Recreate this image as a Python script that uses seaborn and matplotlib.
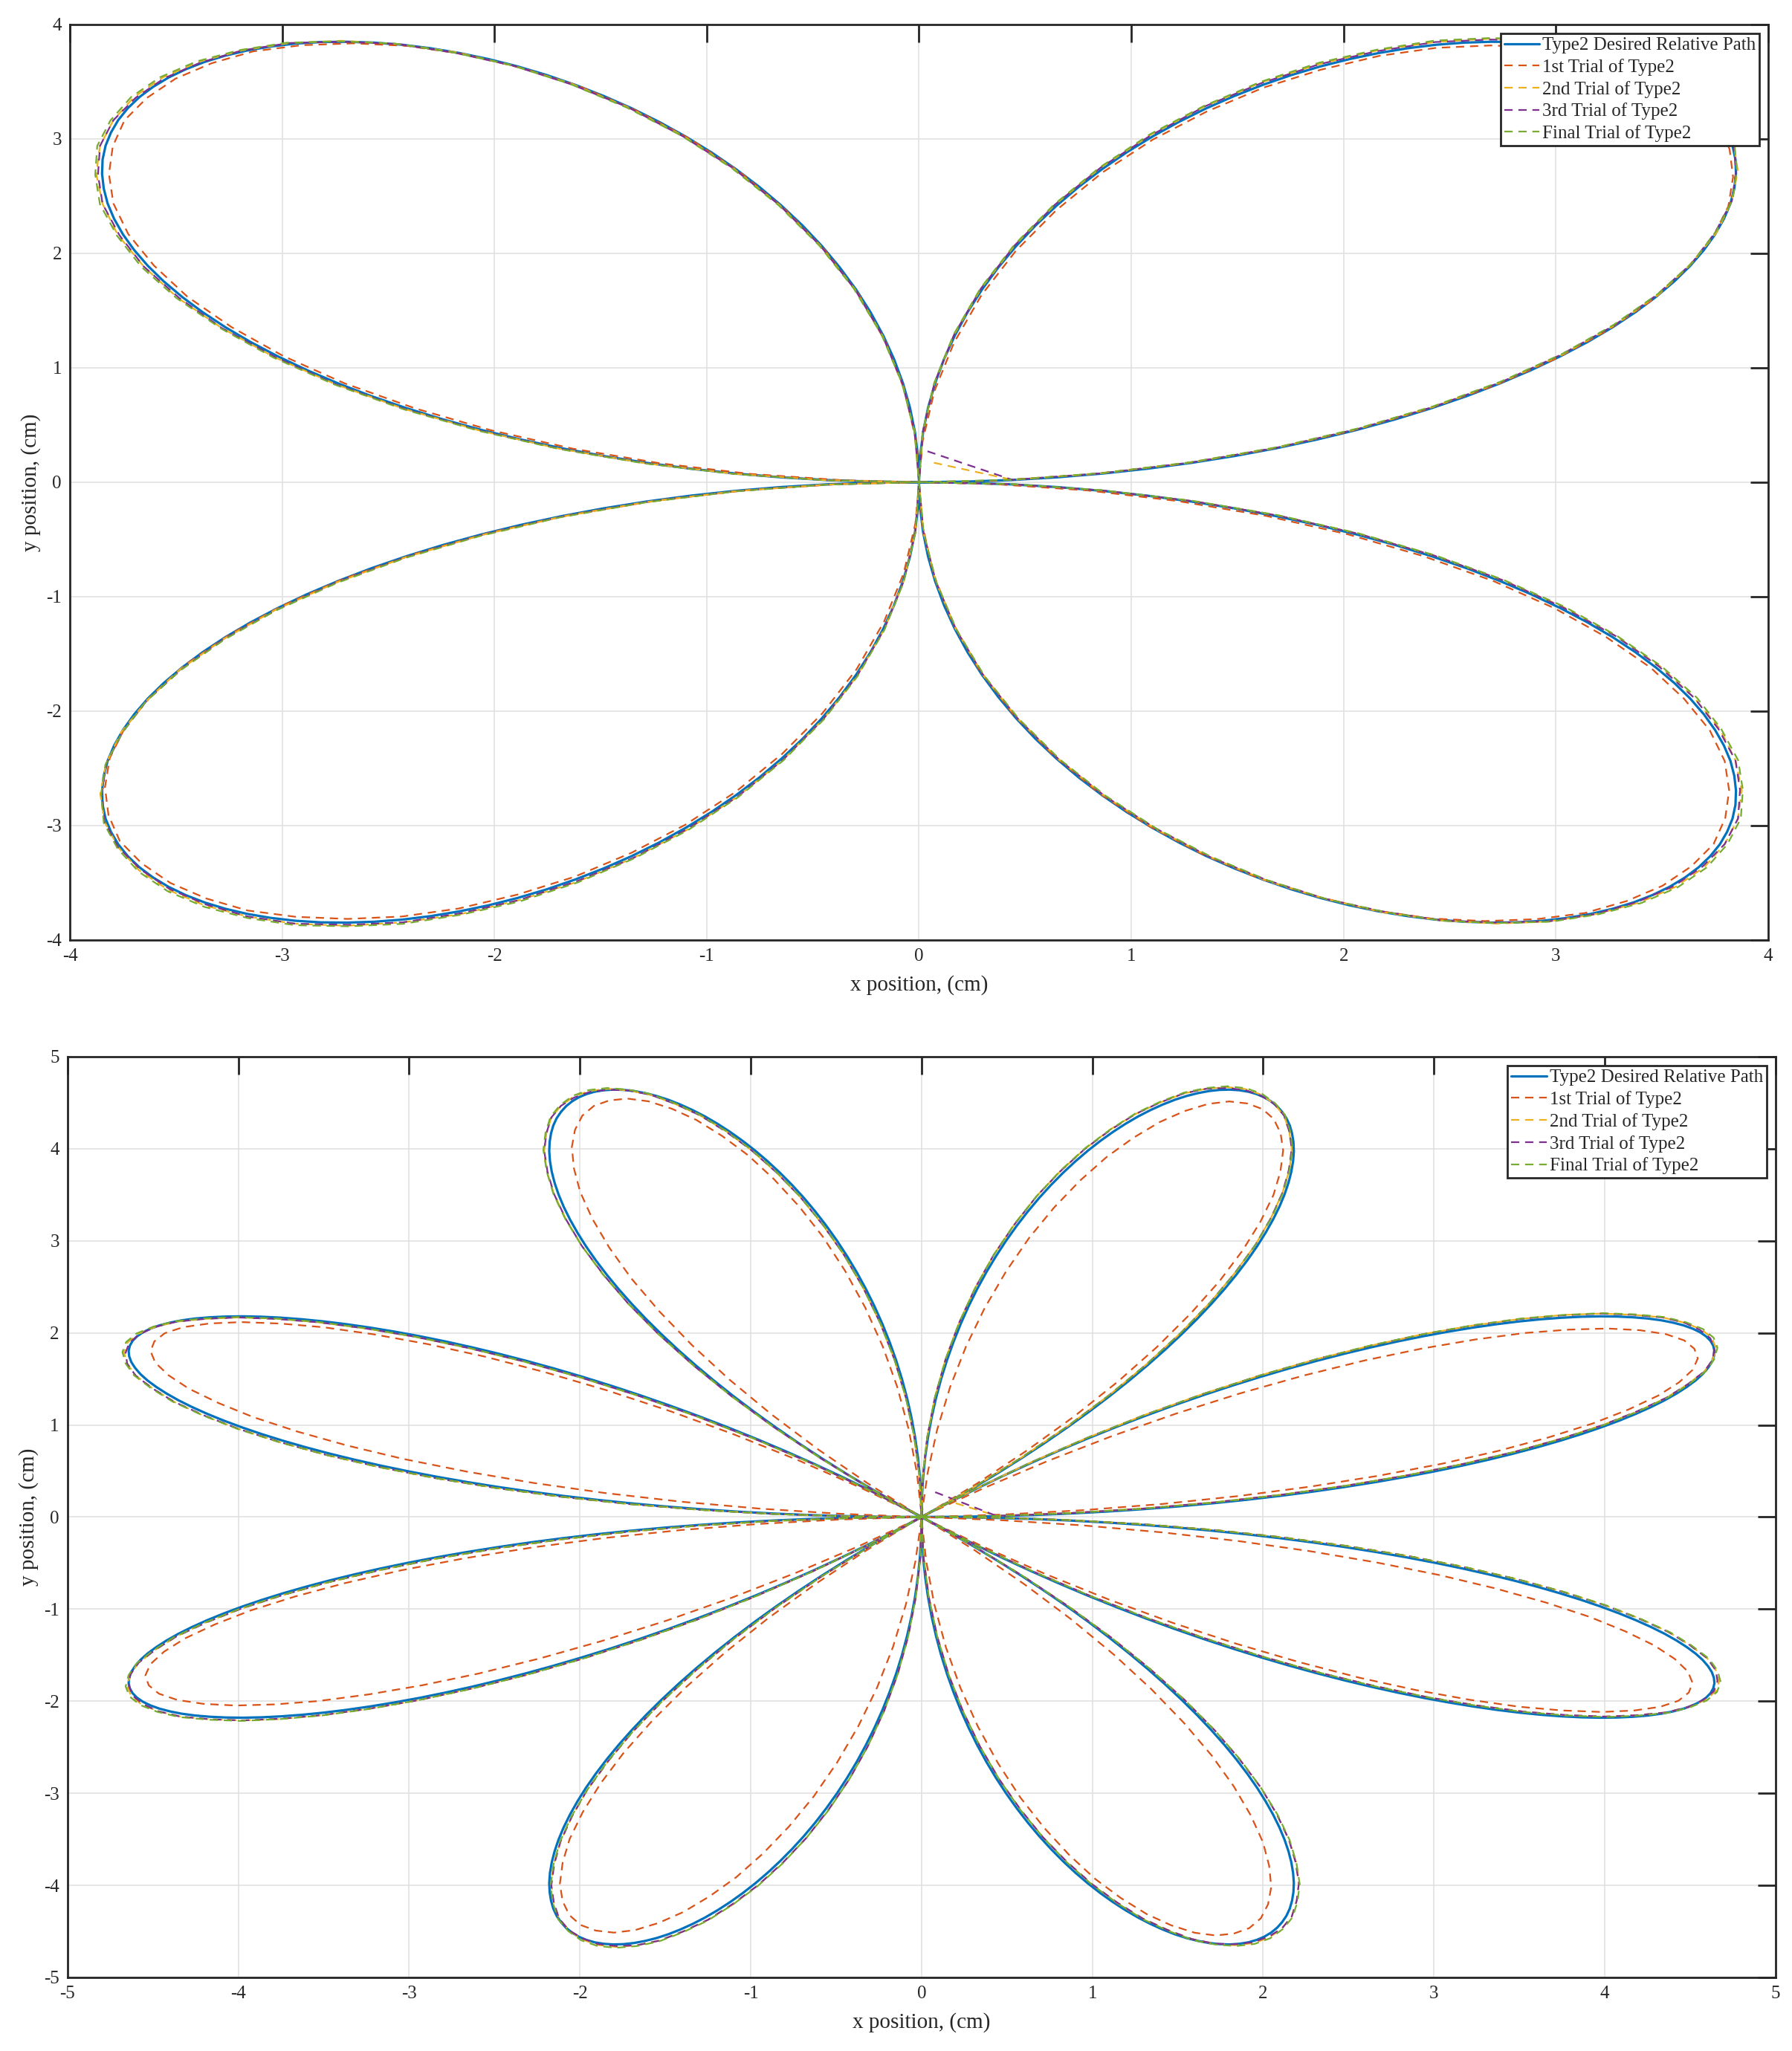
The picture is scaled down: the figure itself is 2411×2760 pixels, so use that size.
import numpy as np
import pandas as pd
import matplotlib
matplotlib.use("Agg")
import matplotlib.pyplot as plt
import seaborn as sns

# half-petal radius readings (cm), from the root (centre) out to the petal tip,
# taken at equal angle steps across half a petal
DESIRED_HALF = [0.0, 0.218, 0.436, 0.653, 0.868, 1.082, 1.294, 1.504, 1.710, 1.913,
                2.113, 2.309, 2.500, 2.687, 2.868, 3.044, 3.214, 3.378, 3.536, 3.686,
                3.830, 3.967, 4.096, 4.217, 4.330, 4.435, 4.532, 4.619, 4.698, 4.769,
                4.830, 4.881, 4.924, 4.957, 4.981, 4.995, 5.000]

# top panel: 4 petals
TOP_TRIAL1_HALF = [0.0, 0.36, 0.80, 1.23, 1.66, 2.07, 2.46, 2.84, 3.19, 3.51,
                   3.81, 4.07, 4.31, 4.51, 4.67, 4.80, 4.90, 4.95, 4.97]
TOP_TRIAL2_HALF = [0.0, 0.44, 0.87, 1.30, 1.72, 2.12, 2.51, 2.88, 3.23, 3.55,
                   3.85, 4.11, 4.35, 4.55, 4.72, 4.85, 4.94, 5.00, 5.02]
TOP_TRIAL3_HALF = [0.0, 0.44, 0.87, 1.30, 1.72, 2.12, 2.51, 2.88, 3.22, 3.55,
                   3.84, 4.11, 4.34, 4.55, 4.71, 4.85, 4.94, 4.99, 5.01]
TOP_FINAL_HALF = [0.0, 0.44, 0.87, 1.30, 1.72, 2.12, 2.51, 2.88, 3.23, 3.55,
                  3.85, 4.12, 4.35, 4.56, 4.72, 4.86, 4.95, 5.01, 5.03]

# bottom panel: 8 petals
BOT_TRIAL1_HALF = [0.0, 0.02, 0.05, 0.48, 0.95, 1.42, 1.87, 2.30, 2.71, 3.10,
                   3.45, 3.77, 4.06, 4.30, 4.51, 4.67, 4.79, 4.86, 4.88]
BOT_TRIAL2_HALF = [0.0, 0.44, 0.87, 1.30, 1.72, 2.12, 2.51, 2.88, 3.22, 3.55,
                   3.84, 4.11, 4.35, 4.55, 4.71, 4.85, 4.94, 5.00, 5.02]
BOT_TRIAL3_HALF = [0.0, 0.44, 0.87, 1.30, 1.72, 2.12, 2.51, 2.88, 3.22, 3.55,
                   3.84, 4.11, 4.34, 4.55, 4.71, 4.85, 4.94, 4.99, 5.01]
BOT_FINAL_HALF = [0.0, 0.44, 0.87, 1.30, 1.72, 2.12, 2.51, 2.88, 3.23, 3.55,
                  3.85, 4.12, 4.35, 4.56, 4.72, 4.86, 4.95, 5.01, 5.03]

# small angular lag of each run against the desired path (degrees)
TOP_ROT_DEG = [0.0, -0.2, 0.2, 0.2, 0.3]
BOT_ROT_DEG = [0.0, -0.5, 0.3, 0.3, 0.3]

# off-path starting points of the 2nd and 3rd trials
TOP_TRIAL2_START = [0.07, 0.17]
TOP_TRIAL3_START = [0.04, 0.27]
BOT_TRIAL2_START = [0.20, 0.15]
BOT_TRIAL3_START = [0.08, 0.27]

LABELS = ["Type2 Desired Relative Path", "1st Trial of Type2", "2nd Trial of Type2",
          "3rd Trial of Type2", "Final Trial of Type2"]
COLORS = ["#0072BD", "#D95319", "#EDB120", "#7E2F8E", "#77AC30"]

TOP_TICKS = [-4, -3, -2, -1, 0, 1, 2, 3, 4]
BOT_TICKS = [-5, -4, -3, -2, -1, 0, 1, 2, 3, 4, 5]


def rose_frame(half, n_petals, rot_deg=0.0, start=None):
    """Build the x/y path of an n-petal rose from a half-petal radius profile."""
    profile = np.array(half + half[-2::-1])
    span = 2 * np.pi / n_petals
    rot = np.deg2rad(rot_deg)
    xs, ys = [], []
    for k in range(n_petals):
        ang = rot + k * span + np.linspace(0, span, len(profile))
        xs.append(profile * np.cos(ang))
        ys.append(profile * np.sin(ang))
    x = np.concatenate(xs)
    y = np.concatenate(ys)
    if start is not None:
        x = np.concatenate([[start[0]], x[1:]])
        y = np.concatenate([[start[1]], y[1:]])
    return pd.DataFrame({"x": x, "y": y})


def draw_panel(ax, frames, ticks):
    for i, df in enumerate(frames):
        if i == 0:
            sns.lineplot(data=df, x="x", y="y", sort=False, estimator=None, ax=ax,
                         color=COLORS[i], linewidth=2.3, label=LABELS[i])
        else:
            sns.lineplot(data=df, x="x", y="y", sort=False, estimator=None, ax=ax,
                         color=COLORS[i], linewidth=1.6, linestyle=(0, (5, 3.5)),
                         label=LABELS[i])
    ax.set_xlim(ticks[0], ticks[-1])
    ax.set_ylim(ticks[0], ticks[-1])
    ax.set_xticks(ticks)
    ax.set_yticks(ticks)
    ax.grid(True, color="#dfdfdf", linewidth=1.1)
    ax.set_axisbelow(True)
    ax.tick_params(direction="in", length=17, width=2, top=True, right=True,
                   labelsize=18, pad=8, color="#262626", labelcolor="#262626")
    for sp in ax.spines.values():
        sp.set_color("#262626")
        sp.set_linewidth(2)
    ax.set_xlabel("x position, (cm)", fontsize=21, labelpad=10)
    ax.set_ylabel("y position, (cm)", fontsize=21, labelpad=5)
    leg = ax.legend(loc="upper right", bbox_to_anchor=(0.9948, 0.9903), borderaxespad=0,
                    fontsize=18, labelspacing=0.27, borderpad=0.2, handlelength=1.9,
                    handletextpad=0.15, fancybox=False, framealpha=1,
                    edgecolor="#262626")
    leg.get_frame().set_linewidth(2)


sns.set_theme(style="white")
plt.rcParams["font.family"] = ["Liberation Serif", "DejaVu Serif"]
plt.rcParams["axes.unicode_minus"] = False

fig = plt.figure(figsize=(24.11, 27.60), dpi=100)
ax1 = fig.add_axes([0.039, 0.5417, 0.9477, 0.4464])
ax2 = fig.add_axes([0.0377, 0.0359, 0.9531, 0.4489])

top_halves = [DESIRED_HALF, TOP_TRIAL1_HALF, TOP_TRIAL2_HALF, TOP_TRIAL3_HALF, TOP_FINAL_HALF]
top_starts = [None, None, TOP_TRIAL2_START, TOP_TRIAL3_START, None]
bot_halves = [DESIRED_HALF, BOT_TRIAL1_HALF, BOT_TRIAL2_HALF, BOT_TRIAL3_HALF, BOT_FINAL_HALF]
bot_starts = [None, None, BOT_TRIAL2_START, BOT_TRIAL3_START, None]

top_frames = [rose_frame(h, 4, r, s) for h, r, s in zip(top_halves, TOP_ROT_DEG, top_starts)]
bot_frames = [rose_frame(h, 8, r, s) for h, r, s in zip(bot_halves, BOT_ROT_DEG, bot_starts)]

draw_panel(ax1, top_frames, TOP_TICKS)
draw_panel(ax2, bot_frames, BOT_TICKS)

fig.savefig("out.png", dpi=100, facecolor="white")
